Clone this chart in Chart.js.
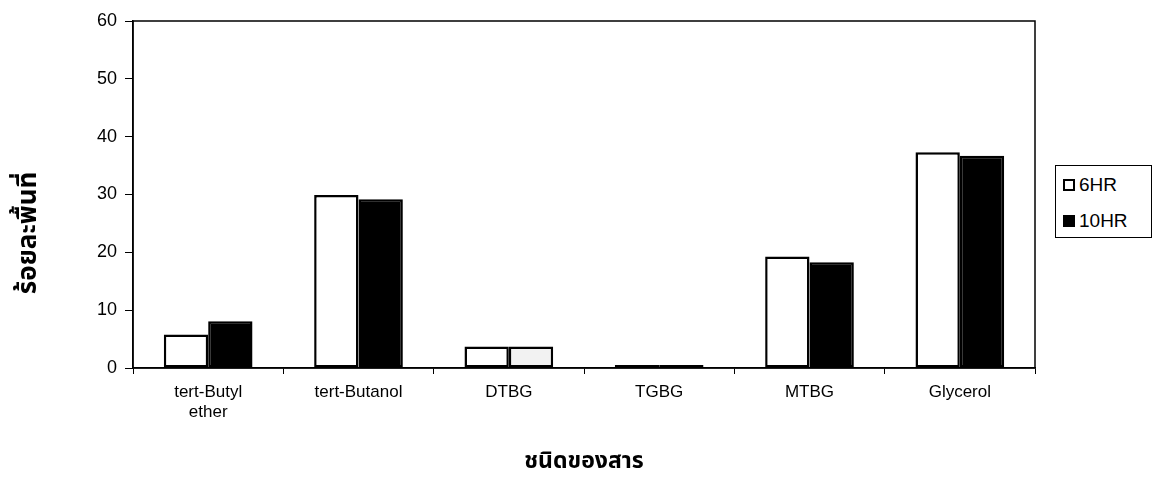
<!DOCTYPE html>
<html>
<head>
<meta charset="utf-8">
<script src="https://cdn.jsdelivr.net/npm/chart.js@4/dist/chart.umd.min.js"></script>
<style>
  html, body { margin: 0; padding: 0; background: #fff; }
  #wrap { position: relative; width: 1158px; height: 483px; }
  #legend {
    position: absolute; left: 1055px; top: 165px; width: 97px; height: 73px;
    border: 1.5px solid #000; box-sizing: border-box; background: #fff;
    font-family: "Liberation Sans", Arial, sans-serif; font-size: 19px; color: #000;
    padding: 1px 0 0 7px;
  }
  #legend .item { display: flex; align-items: center; height: 36px; }
  #legend .sw { width: 12px; height: 12px; margin-right: 4px; box-sizing: border-box; border: 2px solid #000; }
</style>
</head>
<body>
<div id="wrap">
  <canvas id="c" width="1158" height="483"></canvas>
  <div id="legend"></div>
</div>
<script>
// Substance categories and peak-area percentages after 6 and 10 hours
const categories = [['tert-Butyl', 'ether'], 'tert-Butanol', 'DTBG', 'TGBG', 'MTBG', 'Glycerol'];
const seriesNames = ['6HR', '10HR'];
const values6hr = [5.8, 29.9, 3.7, 0.5, 19.3, 37.3];
const values10hr = [8.1, 29.2, 3.7, 0.5, 18.3, 36.7];
const yTicks = [0, 10, 20, 30, 40, 50, 60];
const yTitle = 'ร้อยละพื้นที่';
const xTitle = 'ชนิดของสาร';

const latin = '"Liberation Sans", Arial, sans-serif';
const thai = '"Noto Sans Thai", "Loma", "Garuda", "Norasi", "DejaVu Sans", sans-serif';

// Frame around the plot area plus the rotated y-axis caption
const framePlugin = {
  id: 'frame',
  afterDraw(chart) {
    const { ctx, chartArea: a } = chart;
    ctx.save();
    ctx.strokeStyle = '#000';
    ctx.lineWidth = 1.5;
    ctx.strokeRect(a.left, a.top, a.right - a.left, a.bottom - a.top);
    ctx.translate(31, 233);
    ctx.rotate(-Math.PI / 2);
    ctx.fillStyle = '#000';
    ctx.font = 'bold 26px ' + thai;
    ctx.textAlign = 'center';
    ctx.textBaseline = 'middle';
    ctx.fillText(yTitle, 0, 0);
    ctx.restore();
  }
};

const chart = new Chart(document.getElementById('c'), {
  type: 'bar',
  data: {
    labels: categories,
    datasets: [
      {
        label: seriesNames[0],
        data: values6hr,
        backgroundColor: '#fff',
        borderColor: '#000',
        borderWidth: 2.5,
        borderSkipped: false
      },
      {
        label: seriesNames[1],
        data: values10hr,
        backgroundColor: ['#000', '#000', '#f2f2f2', '#000', '#000', '#000'],
        borderColor: '#000',
        borderWidth: 2.5,
        borderSkipped: false
      }
    ]
  },
  options: {
    responsive: false,
    animation: false,
    devicePixelRatio: 1,
    layout: { padding: { top: 21, right: 123, left: 0, bottom: 0 } },
    datasets: { bar: { categoryPercentage: 0.59, barPercentage: 1.0 } },
    plugins: { legend: { display: false }, tooltip: { enabled: false } },
    scales: {
      x: {
        offset: true,
        grid: { offset: true, drawOnChartArea: false, color: '#000', tickLength: 6, lineWidth: 1 },
        border: { color: '#000', width: 1.5 },
        ticks: { color: '#000', font: { family: latin, size: 17 }, padding: 8, maxRotation: 0, autoSkip: false },
        title: {
          display: true, text: xTitle, color: '#000',
          font: { family: thai, size: 23, weight: 'bold' }, padding: { top: 20, bottom: 6 }
        },
        afterFit(scale) { scale.height = 115; }
      },
      y: {
        min: 0, max: 60,
        afterBuildTicks(scale) { scale.ticks = yTicks.map(v => ({ value: v })); },
        grid: { drawOnChartArea: false, color: '#000', tickLength: 8 },
        border: { color: '#000', width: 1.5 },
        ticks: { color: '#000', font: { family: latin, size: 18 }, padding: 8 },
        afterFit(scale) { scale.width = 133; }
      }
    }
  },
  plugins: [framePlugin]
});

// Legend box built from the dataset labels and colours
const legend = document.getElementById('legend');
chart.data.datasets.forEach((ds, i) => {
  const item = document.createElement('div');
  item.className = 'item';
  const sw = document.createElement('span');
  sw.className = 'sw';
  sw.style.background = i === 0 ? '#fff' : '#000';
  const txt = document.createElement('span');
  txt.textContent = ds.label;
  item.appendChild(sw);
  item.appendChild(txt);
  legend.appendChild(item);
});
</script>
</body>
</html>
